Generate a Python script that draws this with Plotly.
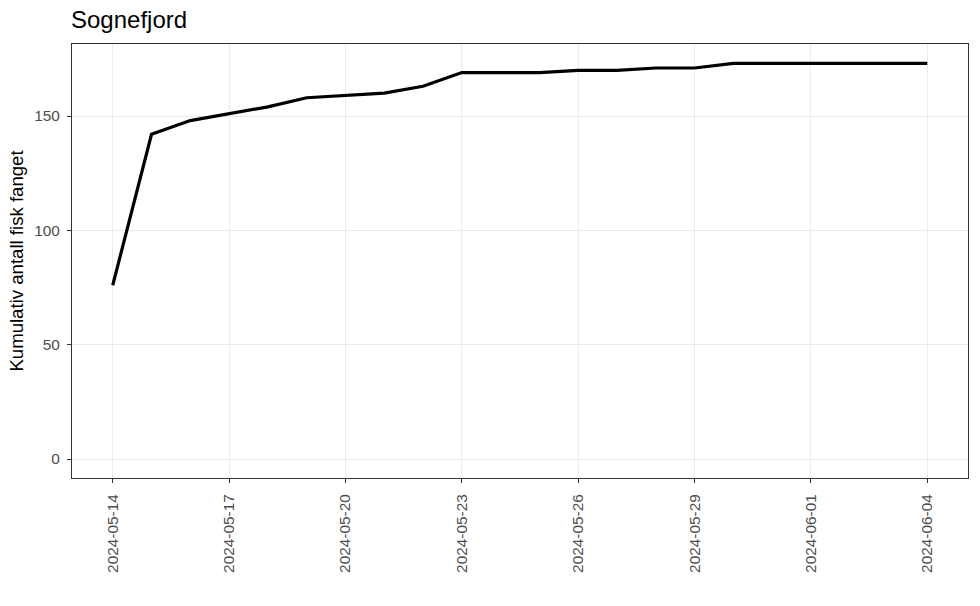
import plotly.graph_objects as go
import pandas as pd

dates = pd.date_range("2024-05-14", "2024-06-04", freq="D").strftime("%Y-%m-%d").tolist()
cum_fish = [76, 142, 148, 151, 154, 158, 159, 160, 163, 169, 169, 169, 170, 170, 171, 171,
            173, 173, 173, 173, 173, 173]
tick_dates = ["2024-05-14", "2024-05-17", "2024-05-20", "2024-05-23", "2024-05-26",
              "2024-05-29", "2024-06-01", "2024-06-04"]
y_ticks = [0, 50, 100, 150]

fig = go.Figure()
fig.add_trace(go.Scatter(x=dates, y=cum_fish, mode="lines",
                         line=dict(color="black", width=3.2), showlegend=False))

font = "Liberation Sans, Arial, sans-serif"
fig.update_layout(
    width=980, height=606,
    margin=dict(l=72, r=12, t=44, b=128),
    paper_bgcolor="white", plot_bgcolor="white",
    font=dict(family=font, color="black"),
    title=dict(text="Sognefjord", x=71/980, xanchor="left", y=1-20/606, yanchor="middle",
               font=dict(size=24, color="black", family=font)),
    xaxis=dict(
        type="date",
        range=["2024-05-12 22:48", "2024-06-05 01:12"],
        tickmode="array", tickvals=tick_dates, ticktext=tick_dates,
        tickangle=-90, tickfont=dict(size=15.4, color="#4D4D4D"),
        ticklabelstandoff=5,
        showgrid=True, gridcolor="#EBEBEB", gridwidth=1.4,
        showline=True, linecolor="#333333", linewidth=1, mirror=True,
        ticks="outside", ticklen=4, tickcolor="#333333", zeroline=False,
    ),
    yaxis=dict(
        range=[-8.3, 181.5],
        tickmode="array", tickvals=y_ticks,
        tickfont=dict(size=15.4, color="#4D4D4D"),
        ticklabelstandoff=4,
        title=dict(text="Kumulativ antall fisk fanget", font=dict(size=18.6, color="black"), standoff=5),
        showgrid=True, gridcolor="#EBEBEB", gridwidth=1.4,
        showline=True, linecolor="#333333", linewidth=1, mirror=True,
        ticks="outside", ticklen=4, tickcolor="#333333", zeroline=False,
    ),
)
fig.write_html("out.html", post_script="document.body.style.margin='0';",
               config={"displayModeBar": False})
